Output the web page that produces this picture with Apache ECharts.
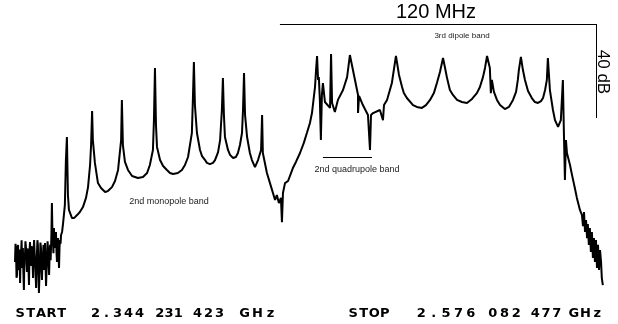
<!DOCTYPE html>
<html>
<head>
<meta charset="utf-8">
<title>spectrum</title>
<script src="https://cdn.jsdelivr.net/npm/echarts@6/dist/echarts.min.js"></script>
<style>
    html, body { margin: 0; padding: 0; background: #fff; }
    #main { width: 618px; height: 324px; }
</style>
</head>
<body>
<div id="main"></div>
<script>
// trace: [MHz above start, dB below reference]
var noiseLeft = [
    [0.0,-101.3],[0.2,-93.5],[0.4,-96.2],[0.6,-108.0],[0.8,-106.8],[1.0,-95.0],[1.2,-94.0],[1.4,-103.5],
    [1.6,-104.7],[1.8,-96.0],[2.0,-110.2],[2.2,-99.0],[2.4,-97.0],[2.6,-92.0],[2.8,-103.8],[3.0,-99.5],
    [3.1,-95.3],[3.3,-106.0],[3.5,-113.2],[3.7,-97.5],[3.9,-99.6],[4.1,-92.5],[4.3,-94.9],[4.5,-102.0],
    [4.7,-105.5],[4.9,-95.5],[5.1,-98.3],[5.3,-104.0],[5.5,-111.1],[5.7,-97.0],[5.9,-92.8],[6.1,-99.0],
    [6.3,-103.0],[6.5,-94.5],[6.7,-96.2],[6.9,-101.5],[7.1,-108.1],[7.3,-96.5],[7.5,-91.9],[7.7,-97.0],
    [7.9,-101.3],[8.1,-107.0],[8.3,-112.3],[8.5,-103.0],[8.6,-98.7],[8.8,-92.0],[9.0,-94.0],[9.2,-105.0],
    [9.4,-114.5],[9.6,-107.5],[9.8,-101.3],[10.0,-93.0],[10.2,-95.3],[10.4,-103.0],[10.6,-108.9],[10.8,-100.0],
    [11.0,-98.3],[11.2,-94.0],[11.4,-104.7],[11.6,-97.5],[11.8,-93.2],[12.0,-102.5],[12.2,-111.5],[12.4,-105.0],
    [12.6,-99.6],[12.8,-92.5],[13.0,-96.2],[13.2,-101.0],[13.4,-106.8],[13.6,-98.0],[13.8,-94.0],[14.0,-100.5],
    [14.1,-101.3],[14.3,-90.0],[14.5,-76.2],[14.7,-88.0],[14.9,-91.9],[15.1,-97.5],[15.3,-86.8],[15.5,-93.0],
    [15.7,-95.3],[15.9,-89.5],[16.1,-88.5],[16.3,-97.0],[16.5,-101.3],[16.7,-94.0],[16.9,-91.1],[17.1,-98.0],
    [17.3,-103.8],[17.5,-95.0],[17.7,-91.9],[17.9,-93.5],[18.1,-89.8],[18.5,-88.5]
];
var monopoleBand = [
    [18.9,-84.7],[19.6,-77.0],[20.0,-57.9],[20.4,-48.1],[20.8,-72.8],[21.2,-79.1],[22.4,-82.6],[23.2,-82.6],
    [24.4,-81.3],[25.5,-80.0],[26.7,-77.9],[27.9,-74.0],[28.7,-69.4],[29.5,-60.0],[29.9,-51.5],[30.3,-37.0],
    [30.6,-49.4],[31.4,-59.1],[32.6,-67.7],[33.8,-69.8],[35.4,-71.5],[36.5,-71.1],[38.1,-69.4],[39.3,-66.8],
    [40.5,-62.1],[41.7,-49.4],[42.0,-32.3],[42.4,-51.5],[43.2,-58.7],[44.4,-62.1],[46.0,-64.7],[48.3,-65.5],
    [50.3,-65.1],[51.9,-63.4],[53.0,-60.0],[54.2,-53.6],[54.6,-40.9],[55.0,-18.7],[55.4,-43.0],[55.8,-52.3],
    [57.0,-57.9],[58.2,-60.4],[59.7,-62.1],[60.9,-63.4],[62.1,-63.8],[64.0,-63.4],[65.6,-62.1],[66.8,-60.0],
    [68.0,-56.6],[69.5,-46.4],[69.9,-32.3],[70.3,-16.2],[70.7,-34.5],[71.5,-46.4],[72.7,-53.6],[73.5,-56.2],
    [74.7,-57.9],[75.4,-59.1],[76.6,-59.6],[77.8,-59.1],[78.6,-57.9],[79.8,-54.5],[80.6,-49.4],[81.3,-36.6],
    [81.7,-23.0],[82.1,-38.7],[82.5,-48.1],[83.7,-53.6],[84.5,-55.7],[85.7,-57.0],[86.8,-56.6],[87.6,-54.9],
    [88.4,-51.5],[89.2,-46.4],[89.6,-36.6],[90.0,-20.9],[90.4,-38.7],[91.2,-48.1],[92.3,-54.9],[93.1,-57.9],
    [94.3,-60.9],[95.5,-57.9],[96.7,-53.6],[97.1,-38.7],[97.4,-54.9],[99.0,-63.4],[101.0,-70.6],[102.2,-74.9],
    [102.9,-72.8],[103.7,-76.2],[104.5,-74.0],[104.9,-84.3],[105.3,-71.9]
];
var dipoleBand = [
    [106.1,-67.7],[107.3,-66.8],[109.2,-61.3],[110.4,-58.7],[112.0,-54.9],[113.5,-50.6],[114.7,-46.4],[115.9,-42.1],
    [116.7,-37.9],[117.9,-26.8],[118.3,-19.6],[118.7,-13.6],[119.1,-23.8],[119.4,-22.6],[119.8,-32.3],[120.2,-49.4],
    [120.6,-30.2],[121.0,-25.1],[121.8,-33.2],[123.8,-35.7],[124.2,-12.8],[124.6,-33.6],[125.7,-37.4],[126.9,-32.3],
    [128.9,-28.1],[130.5,-22.6],[131.6,-13.2],[132.8,-19.6],[133.6,-23.8],[134.8,-30.2],[134.8,-37.9],[135.2,-30.6],
    [136.7,-34.5],[138.7,-38.7],[139.5,-53.6],[139.9,-38.7],[140.7,-37.9],[143.4,-36.6],[144.6,-40.9],[145.0,-34.5],
    [146.2,-32.3],[148.1,-25.1],[149.7,-13.6],[150.9,-21.7],[152.1,-26.8],[152.8,-29.4],[154.0,-31.5],[156.4,-34.5],
    [157.9,-35.3],[159.9,-35.7],[161.5,-34.5],[163.1,-32.3],[164.6,-29.4],[165.8,-25.1],[167.0,-20.4],[168.2,-14.5],
    [169.0,-18.7],[169.7,-22.6],[170.9,-28.1],[172.1,-30.2],[173.7,-32.3],[175.6,-33.2],[177.6,-33.6],[179.6,-31.9],
    [181.5,-29.4],[182.7,-26.8],[183.9,-22.6],[184.7,-18.7],[185.5,-13.6],[186.6,-18.7],[187.0,-29.4],[187.4,-23.8],
    [188.2,-28.9],[189.4,-32.3],[190.6,-34.5],[192.5,-36.2],[194.1,-35.3],[195.7,-32.3],[196.9,-28.9],[197.6,-23.8],
    [198.0,-19.6],[198.8,-14.0],[199.6,-19.6],[200.4,-23.8],[201.6,-28.5],[203.1,-31.5],[204.3,-33.2],[205.5,-33.6],
    [206.7,-32.8],[207.5,-31.5],[208.3,-28.1],[209.0,-23.8],[209.4,-14.5],[210.2,-28.1],[211.4,-36.6],[212.2,-40.9],
    [213.4,-43.8],[214.5,-40.9],[215.3,-23.8],[215.7,-46.4],[216.1,-66.4],[216.5,-49.4],[216.9,-54.9]
];
var noiseRight = [
    [218.1,-60.0],[218.9,-64.3],[220.0,-69.8],[220.8,-74.0],[222.0,-79.1],[222.8,-81.3],[223.2,-86.0],[223.6,-80.0],
    [224.0,-88.5],[224.4,-83.4],[224.8,-91.1],[225.1,-85.1],[225.5,-94.0],[225.9,-86.8],[226.3,-97.0],[226.7,-88.5],
    [227.1,-99.6],[227.5,-91.1],[227.9,-101.3],[228.3,-91.9],[228.7,-103.8],[229.1,-94.0],[229.5,-104.7],[229.9,-96.2],
    [230.3,-101.3],[230.6,-108.1],[231.0,-111.1]
];

// scale bars and band marker
var spanBarFreq = [104.1, 228.3];
var levelBar = [0, -40];
var quadBandFreq = [121.0, 140.3];
var quadBandLevel = -56.6;

var startLabel = ['START', '2.344', '231', '423', 'GHz'];
var stopLabel = ['STOP', '2.576', '082', '477', 'GHz'];

var trace = noiseLeft.concat(monopoleBand, dipoleBand, noiseRight);

// plotter style lettering: each char in its own slot
function spacedText(str, x0, x1, y) {
    var out = [];
    var step = (x1 - x0) / str.length;
    for (var i = 0; i < str.length; i++) {
        out.push({
            type: 'text',
            x: x0 + step * (i + 0.5),
            y: y,
            style: {
                text: str.charAt(i),
                fill: '#000',
                font: 'bold 13px "DejaVu Sans"',
                textAlign: 'center',
                textVerticalAlign: 'middle'
            }
        });
    }
    return out;
}

var startPos = [[15, 67], [90, 145], [155, 183], [192, 225], [238, 277]];
var stopPos = [[348, 390], [415, 477], [487, 522], [530, 562], [568, 603]];
var bottomText = [];
for (var i = 0; i < startLabel.length; i++) {
    bottomText = bottomText.concat(spacedText(startLabel[i], startPos[i][0], startPos[i][1], 314));
}
for (var j = 0; j < stopLabel.length; j++) {
    bottomText = bottomText.concat(spacedText(stopLabel[j], stopPos[j][0], stopPos[j][1], 314));
}

var myChart = echarts.init(document.getElementById('main'));
var options = {
    animation: false,
    backgroundColor: '#fff',
    grid: { left: 15, right: 13, top: 24, bottom: 18 },
    xAxis: { type: 'value', min: 0, max: 231.85, show: false },
    yAxis: { type: 'value', min: -120, max: 0, show: false },
    series: [{
        type: 'line',
        data: trace,
        showSymbol: false,
        clip: false,
        lineStyle: { color: '#000', width: 2 },
        markLine: {
            silent: true,
            symbol: 'none',
            label: { show: false },
            lineStyle: { color: '#000', width: 1, type: 'solid' },
            data: [
                [{ coord: [spanBarFreq[0], levelBar[0]] }, { coord: [spanBarFreq[1], levelBar[0]] }],
                [{ coord: [spanBarFreq[1], levelBar[0]] }, { coord: [spanBarFreq[1], levelBar[1]] }],
                [{ coord: [quadBandFreq[0], quadBandLevel] }, { coord: [quadBandFreq[1], quadBandLevel] }]
            ]
        }
    }],
    graphic: [
        { type: 'text', x: 436, y: 12, style: { text: '120 MHz', fill: '#000', font: '20px "Liberation Sans"', textAlign: 'center', textVerticalAlign: 'middle' } },
        { type: 'text', x: 603, y: 72, rotation: -Math.PI / 2, style: { text: '40 dB', fill: '#000', font: '17px "Liberation Sans"', textAlign: 'center', textVerticalAlign: 'middle' } },
        { type: 'text', x: 462, y: 36, style: { text: '3rd dipole band', fill: '#222', font: '8px "Liberation Sans"', textAlign: 'center', textVerticalAlign: 'middle' } },
        { type: 'text', x: 169, y: 202, style: { text: '2nd monopole band', fill: '#222', font: '9px "Liberation Sans"', textAlign: 'center', textVerticalAlign: 'middle' } },
        { type: 'text', x: 357, y: 170, style: { text: '2nd quadrupole band', fill: '#222', font: '9px "Liberation Sans"', textAlign: 'center', textVerticalAlign: 'middle' } }
    ].concat(bottomText)
};
myChart.setOption(options);
</script>
</body>
</html>
